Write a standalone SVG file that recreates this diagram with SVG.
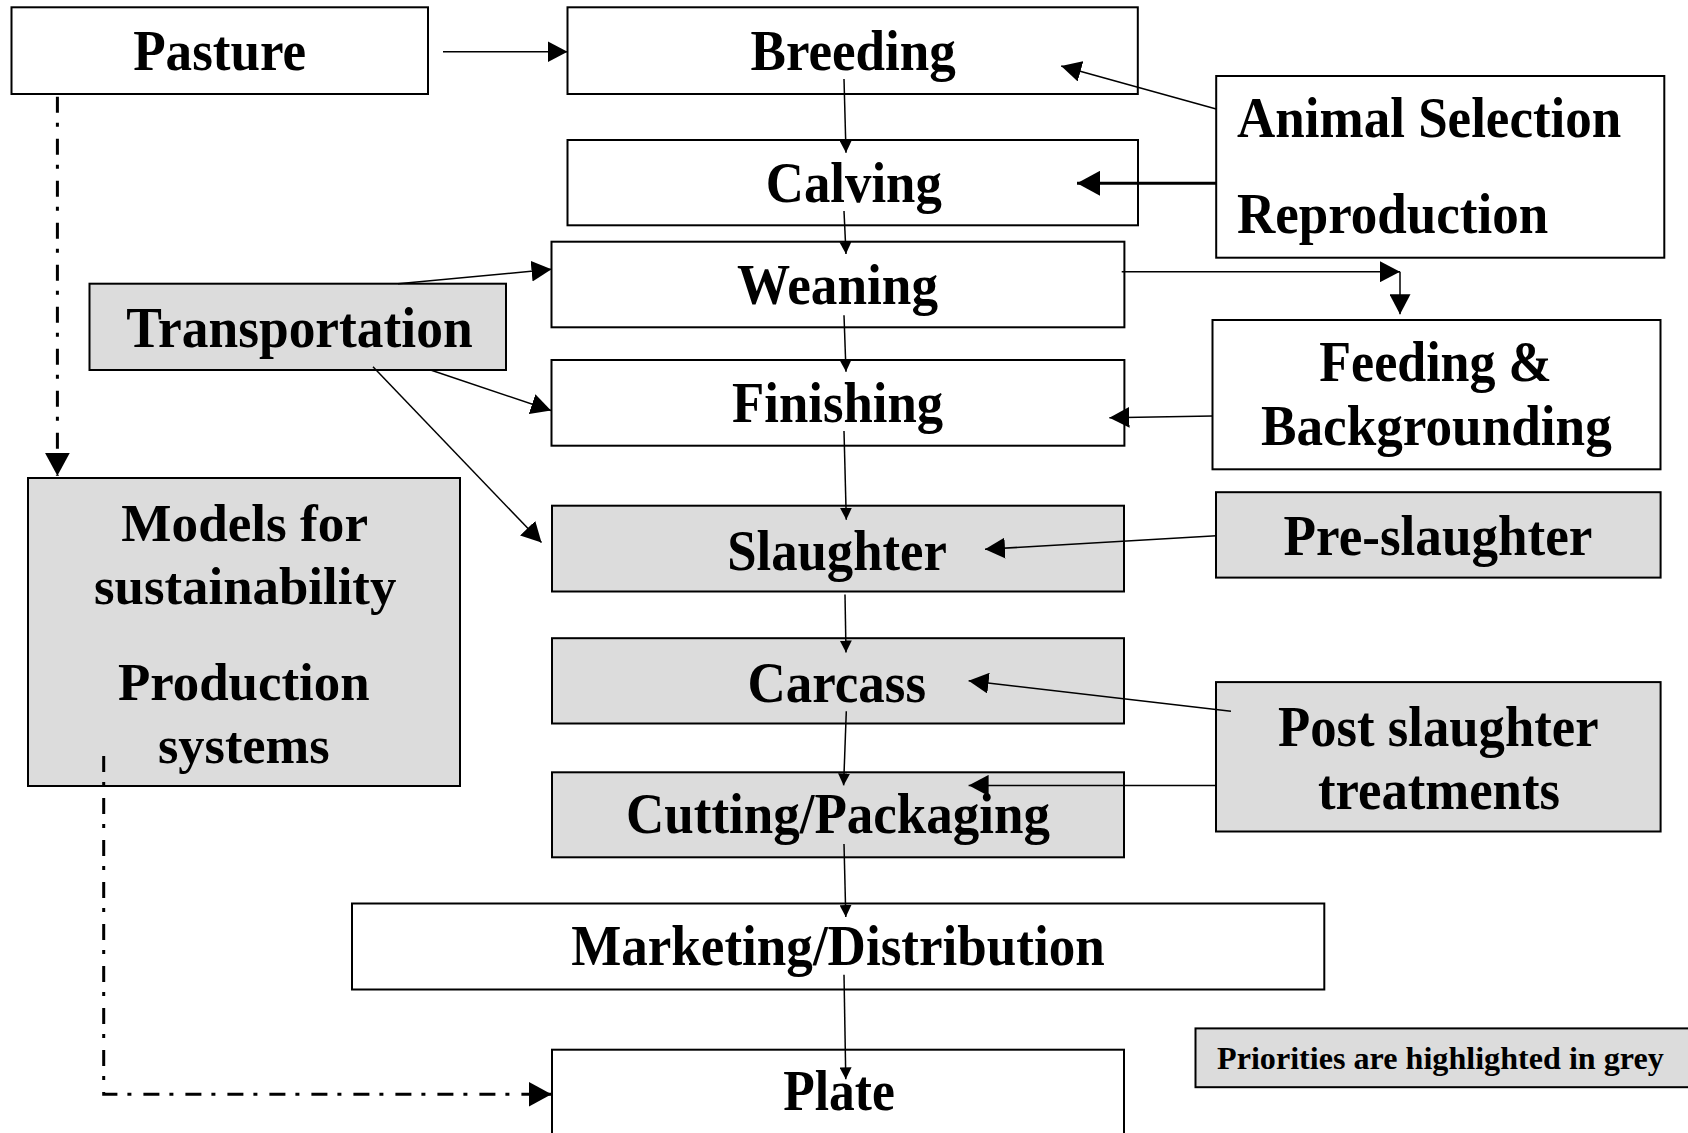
<svg xmlns="http://www.w3.org/2000/svg" width="1688" height="1133" viewBox="0 0 1688 1133">
<style>
.box{stroke:#000;stroke-width:2;fill:#fff}
.grey{fill:#dcdcdc}
.t{font-family:"Liberation Serif","Times New Roman",serif;font-weight:bold;font-size:56px;fill:#000}
.m{text-anchor:middle}
.s{font-size:52px}
.p{font-size:31px}
.c{stroke:#000;stroke-width:1.5;fill:none}
.thick{stroke-width:3}
.dash{stroke-width:3;stroke-dasharray:16 10 4 12}
</style>
<defs>
<marker id="sm" markerUnits="userSpaceOnUse" markerWidth="12" markerHeight="12" refX="12" refY="6" orient="auto"><path d="M0,0 L12,6 L0,12 z" fill="#000"/></marker>
<marker id="lg" markerUnits="userSpaceOnUse" markerWidth="20" markerHeight="21" refX="20" refY="10.5" orient="auto"><path d="M0,0 L20,10.5 L0,21 z" fill="#000"/></marker>
<marker id="xl" markerUnits="userSpaceOnUse" markerWidth="23" markerHeight="25" refX="23" refY="12.5" orient="auto"><path d="M0,0 L23,12.5 L0,25 z" fill="#000"/></marker>
</defs>
<g id="pasture"><rect class="box" x="11.5" y="7.3" width="416.5" height="86.7"/><text class="t m" x="219.7" y="70" textLength="173" lengthAdjust="spacingAndGlyphs">Pasture</text></g>
<g id="breeding"><rect class="box" x="567.5" y="7.3" width="570.3" height="86.7"/><text class="t m" x="853.2" y="70" textLength="205.4" lengthAdjust="spacingAndGlyphs">Breeding</text></g>
<g id="calving"><rect class="box" x="567.5" y="140" width="570.5" height="85.3"/><text class="t m" x="853.8" y="201.7" textLength="176" lengthAdjust="spacingAndGlyphs">Calving</text></g>
<g id="weaning"><rect class="box" x="551.5" y="241.7" width="572.9" height="85.6"/><text class="t m" x="837.5" y="304" textLength="201" lengthAdjust="spacingAndGlyphs">Weaning</text></g>
<g id="finishing"><rect class="box" x="551.5" y="360" width="572.9" height="85.7"/><text class="t m" x="837.6" y="422" textLength="211" lengthAdjust="spacingAndGlyphs">Finishing</text></g>
<g id="slaughter"><rect class="box grey" x="552" y="505.7" width="572" height="85.8"/><text class="t m" x="837" y="569.8" textLength="219.6" lengthAdjust="spacingAndGlyphs">Slaughter</text></g>
<g id="carcass"><rect class="box grey" x="552" y="638.2" width="572" height="85.3"/><text class="t m" x="836.8" y="701.7" textLength="178.6" lengthAdjust="spacingAndGlyphs">Carcass</text></g>
<g id="cutting"><rect class="box grey" x="552" y="772.3" width="572" height="85"/><text class="t m" x="838" y="833.3" textLength="424" lengthAdjust="spacingAndGlyphs">Cutting/Packaging</text></g>
<g id="marketing"><rect class="box" x="352" y="903.5" width="972.3" height="86"/><text class="t m" x="838" y="965.2" textLength="533.7" lengthAdjust="spacingAndGlyphs">Marketing/Distribution</text></g>
<g id="plate"><rect class="box" x="552" y="1049.7" width="572" height="100"/><text class="t m" x="839" y="1109.8" textLength="111.6" lengthAdjust="spacingAndGlyphs">Plate</text></g>
<g id="transportation"><rect class="box grey" x="89.5" y="283.7" width="416.5" height="86.3"/><text class="t m" x="299.5" y="346.7" textLength="346.3" lengthAdjust="spacingAndGlyphs">Transportation</text></g>
<g id="models"><rect class="box grey" x="28" y="478" width="432" height="308"/>
<text class="t s m" x="244.7" y="540.7" textLength="246.7" lengthAdjust="spacingAndGlyphs">Models for</text>
<text class="t s m" x="245.2" y="604" textLength="302.3" lengthAdjust="spacingAndGlyphs">sustainability</text>
<text class="t s m" x="243.8" y="699.7" textLength="251.7" lengthAdjust="spacingAndGlyphs">Production</text>
<text class="t s m" x="243.8" y="763" textLength="171.7" lengthAdjust="spacingAndGlyphs">systems</text></g>
<g id="animal-selection"><rect class="box" x="1216.2" y="76" width="448.1" height="181.7"/>
<text class="t" x="1237" y="137.3" textLength="384.3" lengthAdjust="spacingAndGlyphs">Animal Selection</text>
<text class="t" x="1237" y="233.3" textLength="311.2" lengthAdjust="spacingAndGlyphs">Reproduction</text></g>
<g id="feeding"><rect class="box" x="1212.5" y="320" width="448" height="149.3"/>
<text class="t m" x="1435.6" y="381" textLength="232.5" lengthAdjust="spacingAndGlyphs">Feeding &amp;</text>
<text class="t m" x="1436.4" y="445" textLength="350.7" lengthAdjust="spacingAndGlyphs">Backgrounding</text></g>
<g id="pre-slaughter"><rect class="box grey" x="1216" y="492.2" width="444.6" height="85.4"/><text class="t m" x="1438" y="554.5" textLength="308.9" lengthAdjust="spacingAndGlyphs">Pre-slaughter</text></g>
<g id="post-slaughter"><rect class="box grey" x="1216" y="682.1" width="444.6" height="149.4"/>
<text class="t m" x="1438.3" y="746.2" textLength="320.5" lengthAdjust="spacingAndGlyphs">Post slaughter</text>
<text class="t m" x="1439" y="809.3" textLength="242" lengthAdjust="spacingAndGlyphs">treatments</text></g>
<g id="legend"><rect class="box grey" x="1195.5" y="1028.4" width="500" height="58.8"/><text class="t p" x="1217" y="1069.3" textLength="446.8" lengthAdjust="spacingAndGlyphs">Priorities are highlighted in grey</text></g>
<g id="connectors">
<path class="c" d="M443,51.7 L567.5,51.7" marker-end="url(#lg)"/>
<path class="c" d="M1216.2,109 L1061.2,66" marker-end="url(#lg)"/>
<path class="c thick" d="M1216.2,183.3 L1077,183.3" marker-end="url(#xl)"/>
<path class="c" d="M844,79 L846,152.7" marker-end="url(#sm)"/>
<path class="c" d="M844,211 L846,254" marker-end="url(#sm)"/>
<path class="c" d="M844,315.3 L846,371.7" marker-end="url(#sm)"/>
<path class="c" d="M844,431 L846.3,519.7" marker-end="url(#sm)"/>
<path class="c" d="M845,594.6 L846,652.5" marker-end="url(#sm)"/>
<path class="c" d="M846.3,711.3 L843.6,785.4" marker-end="url(#sm)"/>
<path class="c" d="M844,844 L845.8,917" marker-end="url(#sm)"/>
<path class="c" d="M844,974.8 L845.8,1079.3" marker-end="url(#sm)"/>
<path class="c" d="M398,283.7 L551.5,269.3" marker-end="url(#lg)"/>
<path class="c" d="M430.6,370 L551,410.5" marker-end="url(#lg)"/>
<path class="c" d="M373,366.7 L541.5,542.6" marker-end="url(#lg)"/>
<path class="c" d="M1121.7,271.7 L1400,271.7" marker-end="url(#lg)"/>
<path class="c" d="M1400,271.7 L1400,314.3" marker-end="url(#lg)"/>
<path class="c" d="M1212.5,416 L1109.4,417.7" marker-end="url(#lg)"/>
<path class="c" d="M1216.3,535.8 L985,549.3" marker-end="url(#lg)"/>
<path class="c" d="M1231,711.3 L968.6,680.8" marker-end="url(#lg)"/>
<path class="c" d="M1216.3,785.4 L968.6,785.4" marker-end="url(#lg)"/>
<path class="c dash" d="M57.4,96.7 L57.4,475.7" marker-end="url(#xl)"/>
<path class="c dash" d="M103.7,756 L103.7,1094.3 L551.5,1094.3" marker-end="url(#xl)"/>
</g>
</svg>
